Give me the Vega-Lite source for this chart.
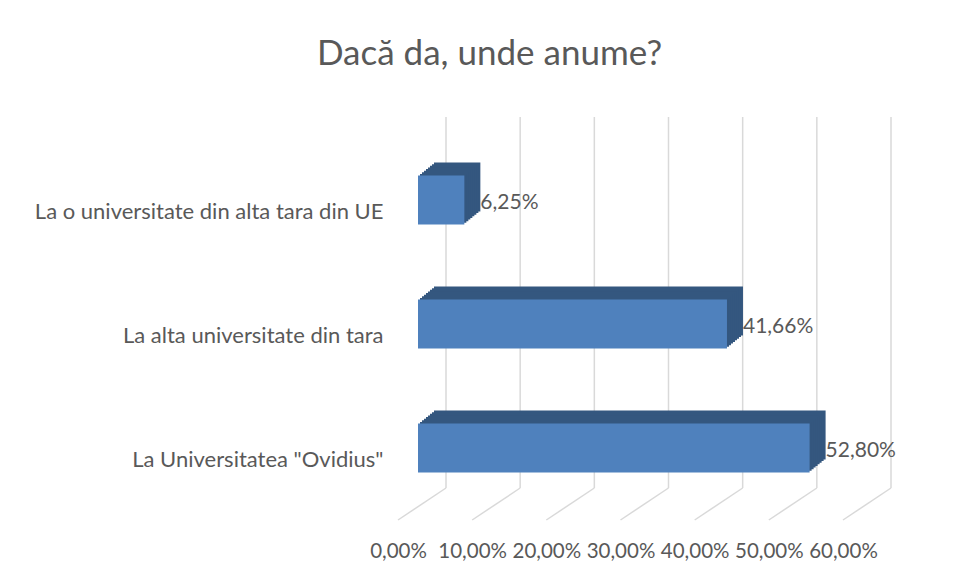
{
  "$schema": "https://vega.github.io/schema/vega-lite/v6.json",
  "autosize": {"type": "none"},
  "padding": {"left": 418, "top": 138, "right": 97, "bottom": 71},
  "width": 445,
  "height": 372,
  "background": "white",
  "title": {
    "text": "Dacă da, unde anume?",
    "font": "Lato",
    "fontSize": 35,
    "fontWeight": "normal",
    "color": "#595959",
    "anchor": "middle",
    "frame": "group",
    "dx": -151,
    "baseline": "alphabetic",
    "offset": 16
  },
  "datasets": {
    "bars": [
      {"cat": "La o universitate din alta tara din UE", "value": 0.0625},
      {"cat": "La alta universitate din tara", "value": 0.4166},
      {"cat": "La Universitatea \"Ovidius\"", "value": 0.528}
    ],
    "ticks": [
      {"t": 0}, {"t": 0.1}, {"t": 0.2}, {"t": 0.3}, {"t": 0.4}, {"t": 0.5}, {"t": 0.6}
    ]
  },
  "layer": [
    {
      "data": {"name": "ticks"},
      "mark": {"type": "rule", "color": "#d9d9d9", "strokeWidth": 1.5, "xOffset": 28, "yOffset": -21, "y2Offset": -22},
      "encoding": {
        "x": {"field": "t", "type": "quantitative", "scale": {"domain": [0, 0.6], "nice": false, "zero": true},
              "axis": {"format": ".2%", "values": [0, 0.1, 0.2, 0.3, 0.4, 0.5, 0.6], "grid": false, "ticks": false, "domain": false,
                       "labelFont": "Lato", "labelFontSize": 20.5, "labelColor": "#595959", "labelPadding": 31, "labelOffset": -20, "title": null, "labelFlush": false, "labelOverlap": false}},
        "y": {"value": 0},
        "y2": {"value": "height"}
      }
    },
    {
      "data": {"name": "ticks"},
      "mark": {"type": "rule", "color": "#d9d9d9", "strokeWidth": 1.5, "xOffset": 28, "yOffset": -22, "x2Offset": -20, "y2Offset": 10},
      "encoding": {
        "x": {"field": "t", "type": "quantitative"},
        "x2": {"field": "t"},
        "y": {"value": "height"},
        "y2": {"value": "height"}
      }
    },
    {
      "data": {"name": "bars"},
      "layer": [
        {"mark": {"type": "bar", "color": "#34577f", "xOffset": 16, "x2Offset": 16, "yOffset": -13, "y2Offset": -13}},
        {"mark": {"type": "bar", "color": "#34577f", "xOffset": 14, "x2Offset": 14, "yOffset": -11.375, "y2Offset": -11.375}},
        {"mark": {"type": "bar", "color": "#34577f", "xOffset": 12, "x2Offset": 12, "yOffset": -9.75, "y2Offset": -9.75}},
        {"mark": {"type": "bar", "color": "#34577f", "xOffset": 10, "x2Offset": 10, "yOffset": -8.125, "y2Offset": -8.125}},
        {"mark": {"type": "bar", "color": "#34577f", "xOffset": 8, "x2Offset": 8, "yOffset": -6.5, "y2Offset": -6.5}},
        {"mark": {"type": "bar", "color": "#34577f", "xOffset": 6, "x2Offset": 6, "yOffset": -4.875, "y2Offset": -4.875}},
        {"mark": {"type": "bar", "color": "#34577f", "xOffset": 4, "x2Offset": 4, "yOffset": -3.25, "y2Offset": -3.25}},
        {"mark": {"type": "bar", "color": "#34577f", "xOffset": 2, "x2Offset": 2, "yOffset": -1.625, "y2Offset": -1.625}},
        {"mark": {"type": "bar", "color": "#4f81bd"}},
        {
          "mark": {"type": "text", "align": "left", "baseline": "middle", "dx": 16, "dy": 3, "font": "Lato", "fontSize": 21, "color": "#595959"},
          "encoding": {"text": {"field": "value", "type": "quantitative", "format": ".2%"}}
        }
      ],
      "encoding": {
        "y": {"field": "cat", "type": "nominal",
              "sort": ["La o universitate din alta tara din UE", "La alta universitate din tara", "La Universitatea \"Ovidius\""],
              "scale": {"paddingInner": 0.605, "paddingOuter": 0.3025},
              "axis": {"ticks": false, "domain": false, "grid": false, "labelFont": "Lato", "labelFontSize": 22, "labelColor": "#595959",
                       "labelPadding": 35, "labelOffset": 12, "labelLimit": 0, "title": null}},
        "x": {"field": "value", "type": "quantitative"}
      }
    }
  ],
  "config": {
    "locale": {"number": {"decimal": ",", "thousands": ".", "grouping": [3], "currency": ["", " €"]}},
    "view": {"stroke": null}
  }
}
